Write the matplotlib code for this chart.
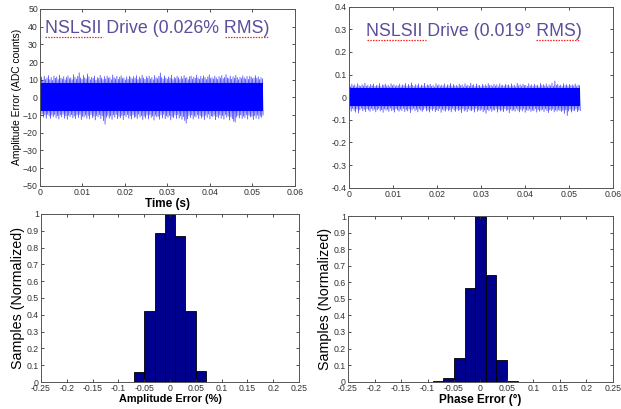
import numpy as np
import matplotlib
matplotlib.use("Agg")
import matplotlib.pyplot as plt

plt.rcParams['font.family'] = ['Liberation Sans', 'DejaVu Sans']

# ---- data ----
t_end = 0.0525  # last sample time (s)

# amplitude error trace: upper / lower excursions (ADC counts)
amp_upper = [
    10.5, 11.5, 9.8, 12.0, 10.2, 11.0, 12.3, 10.0, 11.2, 9.6, 12.1, 10.8, 11.6, 10.1, 12.6, 11.0,
    10.4, 11.8, 9.9, 11.3, 12.2, 10.6, 11.1, 10.0, 12.8, 11.4, 10.3, 11.9, 13.9, 11.0, 10.2, 12.4,
    11.1, 10.5, 13.2, 11.7, 10.0, 11.5, 10.8, 12.0, 9.7, 11.2, 10.6, 12.5, 11.0, 10.1, 11.8, 10.4,
    12.1, 10.9, 11.3, 10.0, 12.7, 11.1, 10.5, 11.9, 10.2, 11.4, 12.2, 10.7, 11.0, 9.8, 11.6, 10.3,
    12.0, 11.2, 10.4, 11.8, 10.9, 12.3, 10.1, 11.5, 10.6, 12.6, 11.0, 10.2, 11.7, 10.8, 12.1, 10.4,
    11.3, 10.0, 12.4, 11.1, 10.6, 11.9, 13.8, 11.2, 10.5, 12.2, 11.0, 10.3, 11.6, 10.9, 12.5, 10.2,
    11.4, 10.7, 12.0, 11.1, 10.1, 11.8, 10.5, 12.3, 10.9, 11.2, 10.0, 11.7, 12.1, 10.4, 11.5, 10.8,
    12.6, 11.0, 10.3, 11.9, 10.6, 12.2, 11.3, 10.1, 11.6, 12.8, 10.7, 11.2, 10.4, 12.0, 11.1, 10.2,
    11.8, 10.9, 12.4, 10.5, 11.3, 12.9, 11.0, 10.6, 12.1, 10.3, 11.7, 10.8, 12.5, 11.2, 10.0, 11.4,
    10.7, 12.2, 11.1, 10.4, 11.9, 10.2, 12.0, 11.5, 10.6, 11.0, 12.3, 10.8, 11.6, 10.1, 11.2, 10.5]
amp_lower = [
    -10.2, -9.5, -11.3, -10.0, -11.8, -9.7, -10.6, -12.0, -10.1, -11.0, -9.8, -11.6, -10.4, -12.3, -10.0, -11.1,
    -9.6, -11.9, -10.5, -12.4, -10.2, -11.0, -9.9, -11.7, -10.6, -12.1, -10.0, -11.4, -9.7, -12.6, -10.8, -11.2,
    -10.1, -11.9, -10.4, -12.2, -9.8, -11.5, -10.7, -12.8, -10.3, -11.1, -9.9, -12.0, -10.5, -13.2, -15.2, -11.4,
    -10.2, -11.8, -10.6, -12.5, -10.0, -11.3, -9.7, -12.1, -10.8, -11.6, -10.3, -12.7, -10.1, -11.0, -9.8, -11.9,
    -10.5, -12.3, -10.0, -11.5, -10.9, -12.0, -9.6, -11.2, -10.4, -12.6, -10.7, -11.8, -10.1, -12.2, -9.9, -11.4,
    -10.6, -12.9, -10.2, -11.1, -10.8, -12.4, -10.0, -11.7, -9.7, -12.1, -10.5, -11.3, -10.3, -12.8, -10.9, -11.6,
    -10.1, -12.0, -9.8, -11.9, -10.6, -12.5, -11.0, -13.1, -14.6, -12.2, -10.4, -11.5, -10.0, -12.3, -10.7, -11.2,
    -9.9, -12.0, -10.3, -11.8, -10.8, -12.6, -10.1, -11.4, -9.6, -12.2, -10.5, -11.0, -10.2, -12.7, -10.9, -11.6,
    -10.0, -11.9, -10.4, -12.4, -9.8, -11.3, -10.6, -12.9, -11.1, -12.1, -13.5, -14.1, -11.2, -10.3, -11.7, -10.0,
    -12.0, -10.7, -11.5, -9.9, -12.3, -10.2, -11.1, -10.8, -12.6, -10.4, -11.8, -10.1, -12.2, -10.6, -11.4, -10.0]

# phase error trace: upper / lower excursions (deg)
ph_upper = [
    0.052, 0.047, 0.058, 0.050, 0.055, 0.046, 0.060, 0.051, 0.048, 0.056, 0.050, 0.062, 0.049, 0.054, 0.047, 0.057,
    0.051, 0.059, 0.048, 0.053, 0.050, 0.061, 0.047, 0.055, 0.052, 0.058, 0.049, 0.054, 0.046, 0.060, 0.051, 0.056,
    0.048, 0.053, 0.050, 0.059, 0.047, 0.055, 0.052, 0.061, 0.049, 0.057, 0.050, 0.064, 0.053, 0.048, 0.056, 0.051,
    0.059, 0.047, 0.054, 0.050, 0.062, 0.048, 0.055, 0.052, 0.058, 0.049, 0.053, 0.046, 0.060, 0.051, 0.056, 0.048,
    0.054, 0.050, 0.059, 0.047, 0.055, 0.052, 0.061, 0.049, 0.057, 0.050, 0.053, 0.048, 0.058, 0.051, 0.055, 0.047,
    0.060, 0.050, 0.054, 0.049, 0.062, 0.052, 0.056, 0.048, 0.059, 0.051, 0.053, 0.047, 0.057, 0.050, 0.055, 0.049,
    0.061, 0.052, 0.054, 0.048, 0.058, 0.050, 0.056, 0.047, 0.060, 0.051, 0.053, 0.049, 0.057, 0.052, 0.055, 0.048,
    0.059, 0.050, 0.054, 0.047, 0.062, 0.051, 0.056, 0.049, 0.058, 0.052, 0.053, 0.048, 0.060, 0.050, 0.055, 0.049,
    0.057, 0.051, 0.054, 0.047, 0.061, 0.052, 0.056, 0.050, 0.059, 0.048, 0.055, 0.051, 0.063, 0.049, 0.072, 0.053,
    0.058, 0.050, 0.054, 0.048, 0.060, 0.052, 0.056, 0.049, 0.057, 0.051, 0.055, 0.050, 0.059, 0.048, 0.054, 0.052]
ph_lower = [
    -0.055, -0.062, -0.050, -0.058, -0.066, -0.052, -0.070, -0.056, -0.049, -0.060, -0.054, -0.064, -0.051, -0.057, -0.063, -0.050,
    -0.059, -0.053, -0.065, -0.056, -0.050, -0.061, -0.055, -0.067, -0.052, -0.058, -0.054, -0.063, -0.049, -0.060, -0.056, -0.066,
    -0.051, -0.057, -0.062, -0.053, -0.059, -0.050, -0.064, -0.055, -0.061, -0.052, -0.068, -0.056, -0.050, -0.060, -0.054, -0.065,
    -0.052, -0.058, -0.063, -0.055, -0.049, -0.061, -0.057, -0.066, -0.053, -0.059, -0.051, -0.064, -0.056, -0.060, -0.050, -0.067,
    -0.054, -0.058, -0.062, -0.052, -0.060, -0.055, -0.065, -0.050, -0.057, -0.063, -0.053, -0.059, -0.056, -0.068, -0.051, -0.061,
    -0.055, -0.064, -0.052, -0.058, -0.060, -0.054, -0.066, -0.050, -0.062, -0.056, -0.059, -0.053, -0.065, -0.057, -0.071, -0.055,
    -0.060, -0.052, -0.063, -0.056, -0.058, -0.050, -0.066, -0.054, -0.061, -0.057, -0.064, -0.051, -0.059, -0.055, -0.069, -0.053,
    -0.060, -0.056, -0.062, -0.050, -0.058, -0.065, -0.054, -0.061, -0.052, -0.067, -0.056, -0.059, -0.053, -0.063, -0.057, -0.060,
    -0.051, -0.066, -0.055, -0.062, -0.058, -0.054, -0.064, -0.052, -0.060, -0.068, -0.056, -0.059, -0.053, -0.065, -0.057, -0.062,
    -0.055, -0.060, -0.063, -0.058, -0.072, -0.056, -0.081, -0.061, -0.054, -0.066, -0.058, -0.060, -0.052, -0.064, -0.057, -0.059]
amp_core = 8.0     # solid part of the band
ph_core = 0.040

# histograms (normalized counts)
amp_bins = [-0.1, -0.08, -0.06, -0.04, -0.02, 0.0, 0.02, 0.04, 0.06, 0.08, 0.1]
amp_hist = [0.002, 0.003, 0.062, 0.42, 0.885, 1.0, 0.867, 0.42, 0.065, 0.003, 0.002]
ph_bins = [-0.08, -0.06, -0.04, -0.02, 0.0, 0.02, 0.04, 0.06, 0.08]
ph_hist = [0.002, 0.02, 0.142, 0.566, 1.0, 0.643, 0.128, 0.006, 0.001]

time_ticks = ['0', '0.01', '0.02', '0.03', '0.04', '0.05', '0.06']
err_ticks = ['-0.25', '-0.2', '-0.15', '-0.1', '-0.05', '0', '0.05', '0.1', '0.15', '0.2', '0.25']
norm_ticks = ['0', '0.1', '0.2', '0.3', '0.4', '0.5', '0.6', '0.7', '0.8', '0.9', '1']

title_color = '#5b4e9c'
spine_color = '#555555'
trace_color = '#0000ff'
bar_color = '#00008f'


def style(ax):
    ax.tick_params(direction='in', top=True, right=True, length=2.5, width=0.6,
                   labelsize=6.3, colors='#333333', pad=1.5)
    for s in ax.spines.values():
        s.set_color(spine_color)
        s.set_linewidth(0.7)


def zigzag(upper, lower):
    y = np.empty(2 * len(upper))
    y[0::2] = upper
    y[1::2] = lower
    t = np.linspace(0, t_end, len(y))
    return t, y


def squiggle(ax, x0, x1, y):
    # red spell-check underline
    ax.plot([x0, x1], [y, y], color='#ff2020', lw=0.9, ls=(0, (1.2, 1)))


fig = plt.figure(figsize=(6.21, 4.09), dpi=100)

# top left: amplitude error vs time
ax1 = fig.add_axes([0.0644, 0.546, 0.4106, 0.432])
t, y = zigzag(amp_upper, amp_lower)
ax1.plot(t, y, color=trace_color, lw=0.5, alpha=0.8)
ax1.fill_between(t, -amp_core, amp_core, color=trace_color, lw=0)
ax1.set_xlim(0, 0.06)
ax1.set_ylim(-50, 50)
ax1.set_xticks(np.arange(0, 0.061, 0.01))
ax1.set_xticklabels(time_ticks)
ax1.set_yticks(np.arange(-50, 51, 10))
ax1.set_xlabel('Time (s)', fontsize=8.5, fontweight='bold', labelpad=1)
ax1.set_ylabel('Amplitude Error (ADC counts)', fontsize=7.4, labelpad=0.5)
ax1.text(0.0011, 39, 'NSLSII Drive (0.026% RMS)', fontsize=12.8, color=title_color,
         va='center', ha='left')
squiggle(ax1, 0.0012, 0.0148, 34.2)
squiggle(ax1, 0.0436, 0.0536, 34.2)
style(ax1)

# top right: phase error vs time
ax2 = fig.add_axes([0.562, 0.541, 0.4256, 0.4425])
t, y = zigzag(ph_upper, ph_lower)
ax2.plot(t, y, color=trace_color, lw=0.5, alpha=0.8)
ax2.fill_between(t, -ph_core, ph_core, color=trace_color, lw=0)
ax2.set_xlim(0, 0.06)
ax2.set_ylim(-0.4, 0.4)
ax2.set_xticks(np.arange(0, 0.061, 0.01))
ax2.set_xticklabels(time_ticks)
ax2.set_yticks(np.arange(-0.4, 0.41, 0.1))
ax2.set_yticklabels(['-0.4', '-0.3', '-0.2', '-0.1', '0', '0.1', '0.2', '0.3', '0.4'])
ax2.text(0.0038, 0.29, 'NSLSII Drive (0.019\u00b0 RMS)', fontsize=12.8, color=title_color,
         va='center', ha='left')
squiggle(ax2, 0.0041, 0.0175, 0.254)
squiggle(ax2, 0.0424, 0.0521, 0.254)
style(ax2)

# bottom left: amplitude error histogram
ax3 = fig.add_axes([0.066, 0.066, 0.4155, 0.4108])
ax3.bar(amp_bins, amp_hist, width=0.02, color=bar_color, edgecolor='black', lw=0.6)
ax3.set_xlim(-0.25, 0.25)
ax3.set_ylim(0, 1)
ax3.set_xticks(np.arange(-0.25, 0.251, 0.05))
ax3.set_xticklabels(err_ticks)
ax3.set_yticks(np.arange(0, 1.01, 0.1))
ax3.set_yticklabels(norm_ticks)
ax3.set_xlabel('Amplitude Error (%)', fontsize=7.8, fontweight='bold', labelpad=1)
ax3.set_ylabel('Samples (Normalized)', fontsize=10.3, labelpad=1.5)
style(ax3)

# bottom right: phase error histogram
ax4 = fig.add_axes([0.5604, 0.0668, 0.4267, 0.405])
ax4.bar(ph_bins, ph_hist, width=0.02, color=bar_color, edgecolor='black', lw=0.6)
ax4.set_xlim(-0.25, 0.25)
ax4.set_ylim(0, 1)
ax4.set_xticks(np.arange(-0.25, 0.251, 0.05))
ax4.set_xticklabels(err_ticks)
ax4.set_yticks(np.arange(0, 1.01, 0.1))
ax4.set_yticklabels(norm_ticks)
ax4.set_xlabel('Phase Error (\u00b0)', fontsize=8.5, fontweight='bold', labelpad=1)
ax4.set_ylabel('Samples (Normalized)', fontsize=10.3, labelpad=1.5)
style(ax4)

fig.savefig('out.png', dpi=100)
